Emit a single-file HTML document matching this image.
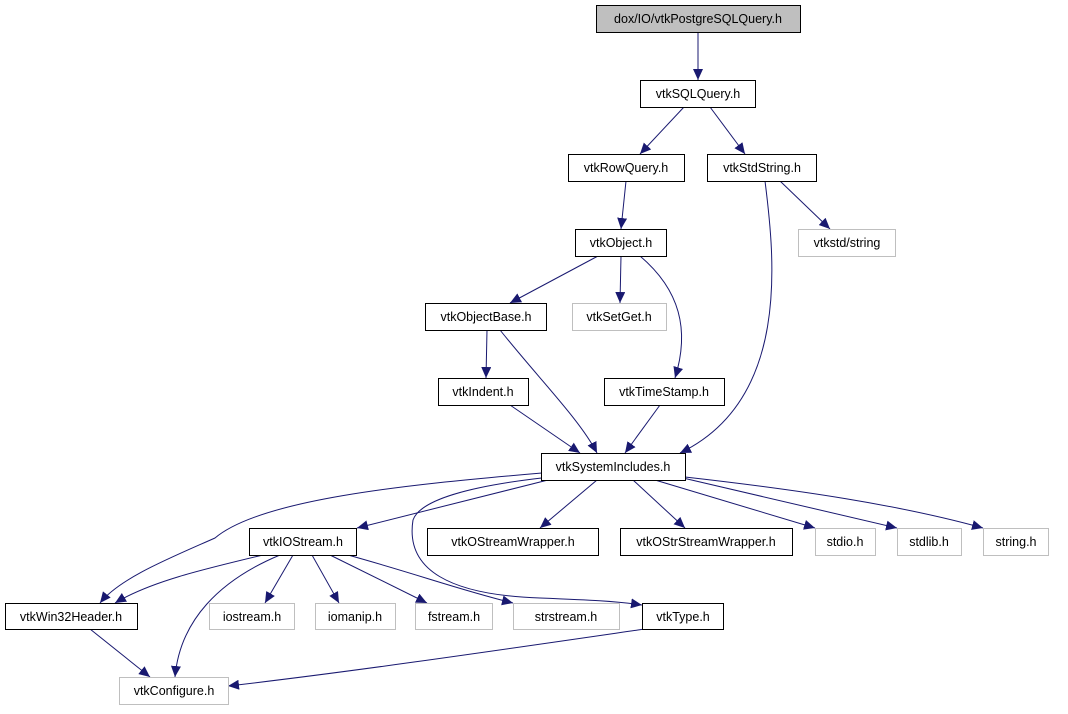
<!DOCTYPE html>
<html><head><meta charset="utf-8"><style>
html,body{margin:0;padding:0;background:#fff;}
svg text{font-family:"Liberation Sans",sans-serif;font-size:12.5px;fill:#000;}
</style></head><body>
<svg width="1068" height="709" viewBox="0 0 1068 709" xmlns="http://www.w3.org/2000/svg">
<defs><marker id="a" markerWidth="11" markerHeight="10" refX="11" refY="5" orient="auto" markerUnits="userSpaceOnUse"><path d="M0,0 L11,5 L0,10 z" fill="#191970"/></marker></defs>
<g fill="none" stroke="#191970" stroke-width="1" marker-end="url(#a)">
<path d="M698,32 L698,80"/>
<path d="M684,107 L640,154"/>
<path d="M710,107 L745,154"/>
<path d="M626,181 L621,229"/>
<path d="M780,181 L830,229"/>
<path d="M765,181 C775,260 790,400 680,453"/>
<path d="M598,256 L510,303"/>
<path d="M621,256 L620,303"/>
<path d="M640,256 C680,290 690,330 675,378"/>
<path d="M487,330 L486,378"/>
<path d="M500,330 C540,380 580,420 597,453"/>
<path d="M510,405 L580,453"/>
<path d="M660,405 L625,453"/>
<path d="M542,473 C400,485 260,500 215,538 C170,558 120,578 100,603"/>
<path d="M548,480 L357,528"/>
<path d="M560,476 C470,485 420,500 413,520 C405,570 450,595 540,598 C590,600 615,601 642,605"/>
<path d="M597,480 L540,528"/>
<path d="M633,480 L685,528"/>
<path d="M655,480 L815,528"/>
<path d="M683,478 L897,528"/>
<path d="M685,477 C800,490 900,505 983,528"/>
<path d="M263,555 C200,570 150,582 115,603"/>
<path d="M280,555 C220,580 180,620 175,677"/>
<path d="M293,555 L265,603"/>
<path d="M312,555 L339,603"/>
<path d="M330,555 L427,603"/>
<path d="M348,555 C420,575 460,590 513,603"/>
<path d="M90,629 L150,677"/>
<path d="M645,629 C500,650 350,672 228,686"/>
</g>
<g stroke-width="1">
<rect x="596.5" y="5.5" width="204" height="27" fill="#bfbfbf" stroke="#000"/>
<rect x="640.5" y="80.5" width="115" height="27" fill="#fff" stroke="#000"/>
<rect x="568.5" y="154.5" width="116" height="27" fill="#fff" stroke="#000"/>
<rect x="707.5" y="154.5" width="109" height="27" fill="#fff" stroke="#000"/>
<rect x="798.5" y="229.5" width="97" height="27" fill="#fff" stroke="#bfbfbf"/>
<rect x="575.5" y="229.5" width="91" height="27" fill="#fff" stroke="#000"/>
<rect x="425.5" y="303.5" width="121" height="27" fill="#fff" stroke="#000"/>
<rect x="572.5" y="303.5" width="94" height="27" fill="#fff" stroke="#bfbfbf"/>
<rect x="438.5" y="378.5" width="90" height="27" fill="#fff" stroke="#000"/>
<rect x="604.5" y="378.5" width="120" height="27" fill="#fff" stroke="#000"/>
<rect x="541.5" y="453.5" width="144" height="27" fill="#fff" stroke="#000"/>
<rect x="249.5" y="528.5" width="107" height="27" fill="#fff" stroke="#000"/>
<rect x="427.5" y="528.5" width="171" height="27" fill="#fff" stroke="#000"/>
<rect x="620.5" y="528.5" width="172" height="27" fill="#fff" stroke="#000"/>
<rect x="815.5" y="528.5" width="60" height="27" fill="#fff" stroke="#bfbfbf"/>
<rect x="897.5" y="528.5" width="64" height="27" fill="#fff" stroke="#bfbfbf"/>
<rect x="983.5" y="528.5" width="65" height="27" fill="#fff" stroke="#bfbfbf"/>
<rect x="5.5" y="603.5" width="132" height="26" fill="#fff" stroke="#000"/>
<rect x="209.5" y="603.5" width="85" height="26" fill="#fff" stroke="#bfbfbf"/>
<rect x="315.5" y="603.5" width="80" height="26" fill="#fff" stroke="#bfbfbf"/>
<rect x="415.5" y="603.5" width="77" height="26" fill="#fff" stroke="#bfbfbf"/>
<rect x="513.5" y="603.5" width="106" height="26" fill="#fff" stroke="#bfbfbf"/>
<rect x="642.5" y="603.5" width="81" height="26" fill="#fff" stroke="#000"/>
<rect x="119.5" y="677.5" width="109" height="27" fill="#fff" stroke="#bfbfbf"/>
</g>
<g text-anchor="middle">
<text x="698" y="23">dox/IO/vtkPostgreSQLQuery.h</text>
<text x="698" y="98">vtkSQLQuery.h</text>
<text x="626" y="172">vtkRowQuery.h</text>
<text x="762" y="172">vtkStdString.h</text>
<text x="847" y="247">vtkstd/string</text>
<text x="621" y="247">vtkObject.h</text>
<text x="486" y="321">vtkObjectBase.h</text>
<text x="619" y="321">vtkSetGet.h</text>
<text x="483" y="396">vtkIndent.h</text>
<text x="664" y="396">vtkTimeStamp.h</text>
<text x="613" y="471">vtkSystemIncludes.h</text>
<text x="303" y="546">vtkIOStream.h</text>
<text x="513" y="546">vtkOStreamWrapper.h</text>
<text x="706" y="546">vtkOStrStreamWrapper.h</text>
<text x="845" y="546">stdio.h</text>
<text x="929" y="546">stdlib.h</text>
<text x="1016" y="546">string.h</text>
<text x="71" y="621">vtkWin32Header.h</text>
<text x="252" y="621">iostream.h</text>
<text x="355" y="621">iomanip.h</text>
<text x="454" y="621">fstream.h</text>
<text x="566" y="621">strstream.h</text>
<text x="683" y="621">vtkType.h</text>
<text x="174" y="695">vtkConfigure.h</text>
</g>
</svg>
</body></html>
